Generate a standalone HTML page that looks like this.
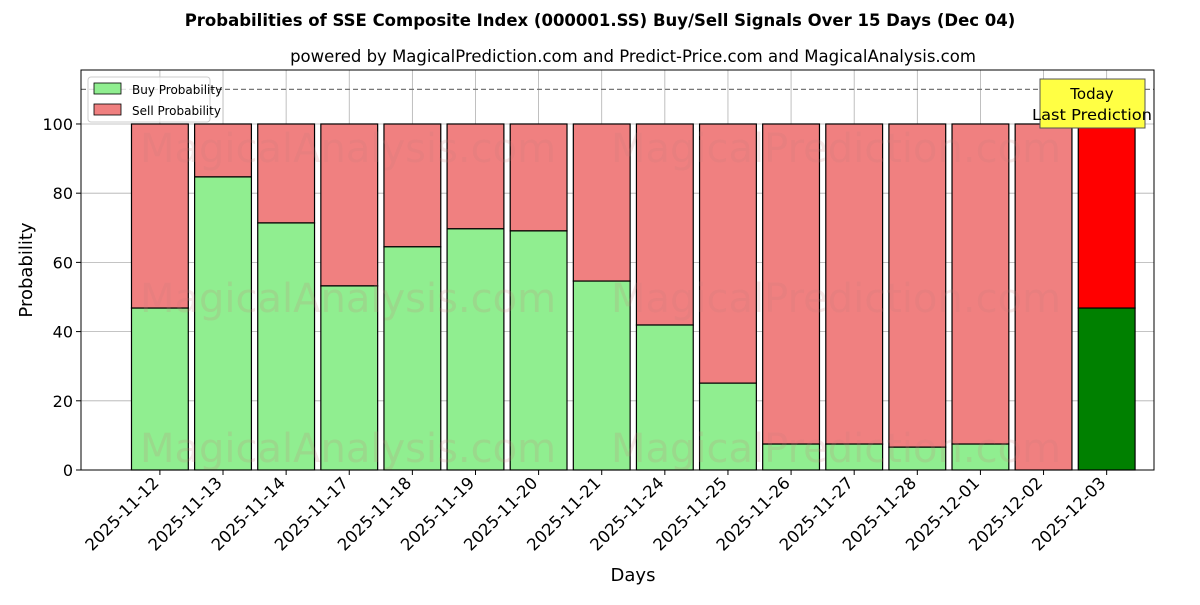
<!DOCTYPE html>
<html><head><meta charset="utf-8">
<style>
html,body{margin:0;padding:0;background:#fff;}
svg text{font-family:"DejaVu Sans","Liberation Sans",sans-serif;}
</style></head>
<body>
<svg id="chart" width="1200" height="600" xmlns="http://www.w3.org/2000/svg">
<rect width="1200" height="600" fill="#fff"/>
<text x="600" y="26" text-anchor="middle" font-size="16.5" font-weight="bold">Probabilities of SSE Composite Index (000001.SS) Buy/Sell Signals Over 15 Days (Dec 04)</text>
<text x="633" y="62" text-anchor="middle" font-size="16.5">powered by MagicalPrediction.com and Predict-Price.com and MagicalAnalysis.com</text>
<g id="grid"></g>
<g id="bars"></g>
<g id="wm" font-size="40" fill="rgba(200,120,120,0.18)">
<text x="348" y="162" text-anchor="middle">MagicalAnalysis.com</text>
<text x="836" y="162" text-anchor="middle">MagicalPrediction.com</text>
<text x="348" y="312" text-anchor="middle">MagicalAnalysis.com</text>
<text x="836" y="312" text-anchor="middle">MagicalPrediction.com</text>
<text x="348" y="462" text-anchor="middle">MagicalAnalysis.com</text>
<text x="836" y="462" text-anchor="middle">MagicalPrediction.com</text>
</g>
<line x1="81" x2="1154" y1="89.4" y2="89.4" stroke="#777" stroke-dasharray="5,3" stroke-width="1.2"/>
<rect x="81" y="70" width="1073" height="400" fill="none" stroke="#000" stroke-width="1"/>
<g id="axes"></g>
<text transform="translate(32,270) rotate(-90)" text-anchor="middle" font-size="18">Probability</text>
<text x="633" y="581" text-anchor="middle" font-size="18">Days</text>
<g>
<rect x="88" y="77" width="122" height="45" fill="#fff" fill-opacity="0.8" stroke="#ccc" rx="3"/>
<rect x="94" y="83" width="27" height="11" fill="#90ee90" stroke="#000" stroke-width="0.8"/>
<text x="132" y="94" font-size="12">Buy Probability</text>
<rect x="94" y="104" width="27" height="11" fill="#f08080" stroke="#000" stroke-width="0.8"/>
<text x="132" y="115" font-size="12">Sell Probability</text>
</g>
<g>
<rect x="1040" y="79" width="105" height="49" fill="#ffff44" stroke="#555"/>
<text x="1092" y="99" text-anchor="middle" font-size="15">Today</text>
<text x="1092" y="120" text-anchor="middle" font-size="15" textLength="120" lengthAdjust="spacingAndGlyphs">Last Prediction</text>
</g>
</svg>
<script>
const categories=["2025-11-12","2025-11-13","2025-11-14","2025-11-17","2025-11-18","2025-11-19","2025-11-20","2025-11-21","2025-11-24","2025-11-25","2025-11-26","2025-11-27","2025-11-28","2025-12-01","2025-12-02","2025-12-03"];
const buyValues=[46.8,84.7,71.4,53.2,64.5,69.7,69.1,54.6,41.9,25.1,7.5,7.5,6.6,7.5,0,46.8];
const yTicks=[0,20,40,60,80,100];
const NS="http://www.w3.org/2000/svg";
const L=81,R=1154,T=70,B=470;
const xMin=-1.25,xMax=15.75,yMin=0,yMax=115.6;
const xs=v=>L+(v-xMin)/(xMax-xMin)*(R-L);
const ys=v=>B-(v-yMin)/(yMax-yMin)*(B-T);
function mk(tag,attrs,parent){const e=document.createElementNS(NS,tag);for(const k in attrs)e.setAttribute(k,attrs[k]);parent.appendChild(e);return e;}
const grid=document.getElementById('grid'),bars=document.getElementById('bars'),axes=document.getElementById('axes');
yTicks.forEach(t=>{
  const y=ys(t);
  const g=mk('line',{x1:L,x2:R,y1:y,y2:y,stroke:'#b0b0b0','stroke-width':0.8},grid);
  
  
  const tk=mk('line',{x1:L-5,x2:L,y1:y,y2:y,stroke:'#000'},axes);
  
  
  const tx=mk('text',{x:L-8,y:y+6,'text-anchor':'end','font-size':16},axes);
  tx.textContent=t;
  
  
});
categories.forEach((c,i)=>{
  const cx=xs(i);
  const g=mk('line',{x1:cx,x2:cx,y1:T,y2:B,stroke:'#b0b0b0','stroke-width':0.8},grid);
  
  
  const w=xs(0.45)-xs(-0.45);
  const last=i===categories.length-1;
  const b=buyValues[i];
  const sell=mk('rect',{x:cx-w/2,y:ys(100),width:w,height:ys(b)-ys(100),fill:last?'#ff0000':'#f08080',stroke:'#000','stroke-width':1.2},bars);
  
  
  const buy=mk('rect',{x:cx-w/2,y:ys(b),width:w,height:ys(0)-ys(b),fill:last?'#008000':'#90ee90',stroke:'#000','stroke-width':1.2},bars);
  
  
  const tk=mk('line',{x1:cx,x2:cx,y1:B,y2:B+5,stroke:'#000'},axes);
  
  
  const tx=mk('text',{x:cx,y:B+14,'text-anchor':'end','font-size':16.5,transform:`rotate(-45 ${cx} ${B+14})`},axes);
  tx.textContent=c;
  
  
});
</script>
</body></html>
